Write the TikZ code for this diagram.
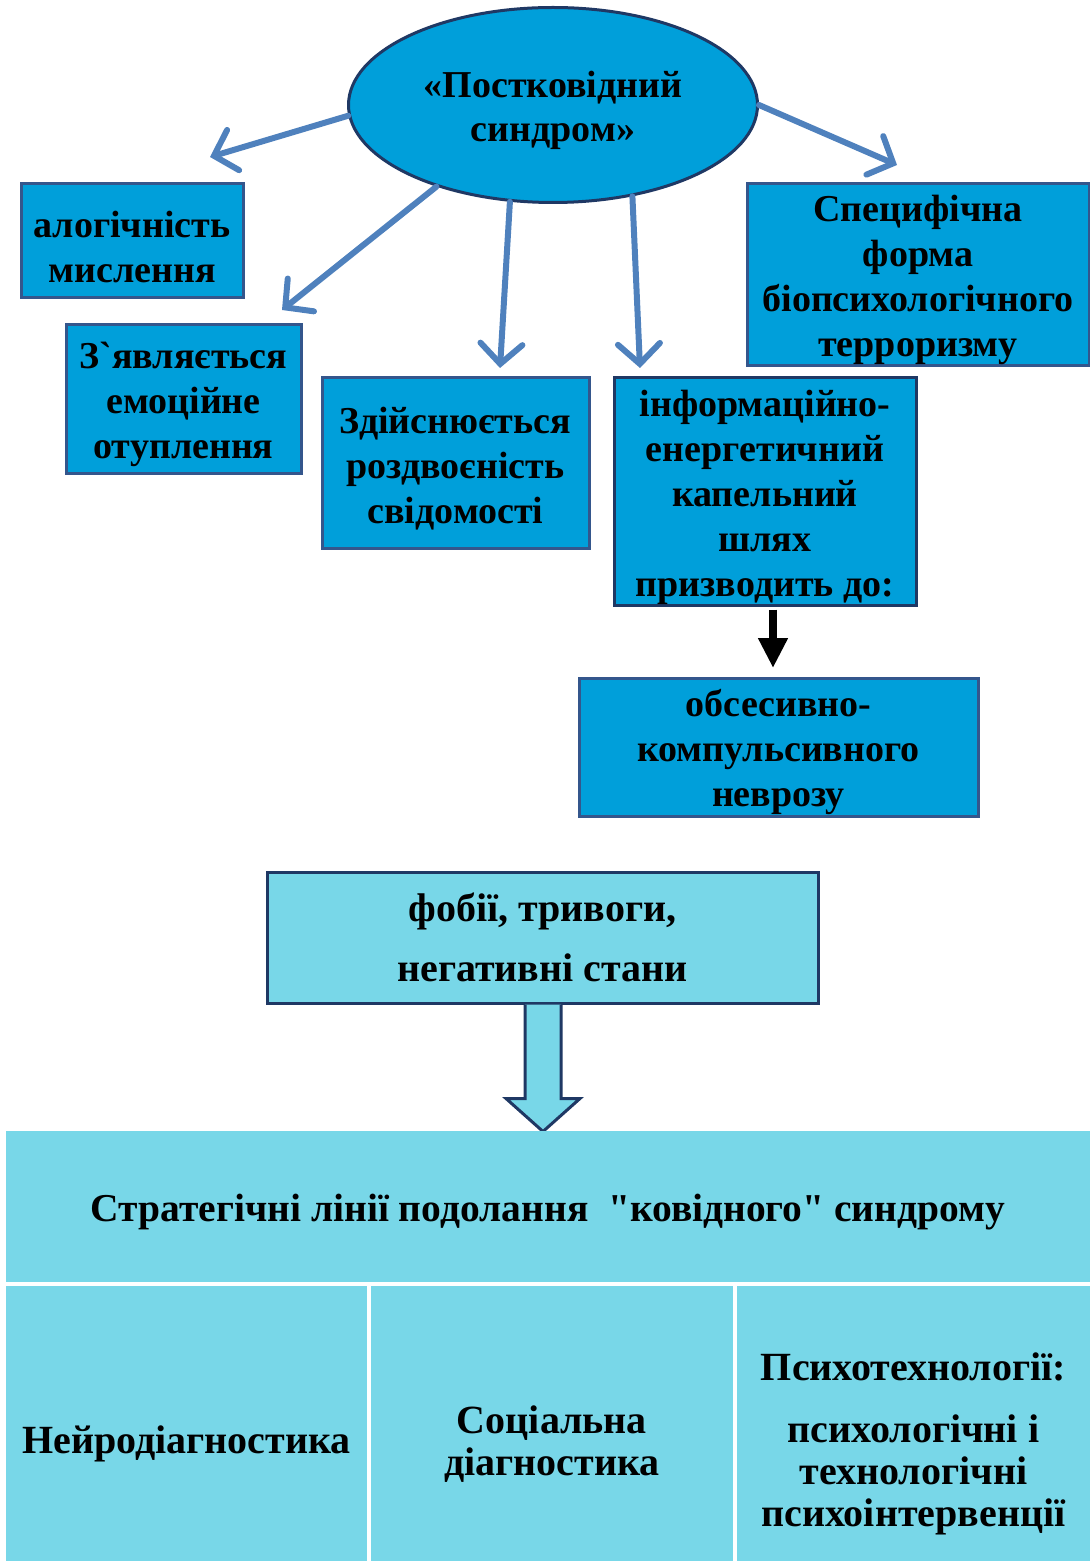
\documentclass[tikz,border=0pt]{standalone}
\usepackage{fontspec}
\setmainfont{Liberation Serif}[Ligatures=TeXOff]
\usepackage{xcolor}
\usepackage{tikz}
\usetikzlibrary{shapes.geometric,arrows.meta,calc}

\definecolor{ovalblue}{RGB}{0,159,218}
\definecolor{navyline}{RGB}{31,56,100}
\definecolor{boxline}{RGB}{52,86,140}
\definecolor{arrowblue}{RGB}{79,129,189}
\definecolor{paleblue}{RGB}{120,215,232}

\newcommand{\topgap}{\rule{0pt}{19pt}}

\tikzset{
  bluebox/.style={draw=boxline, fill=ovalblue, line width=1.5pt, inner sep=0pt,
    align=center, font=\fontsize{19}{22.5}\selectfont\bfseries},
  spoke/.style={draw=arrowblue, line width=3pt, line cap=round,
    -{Straight Barb[length=10pt,width=21pt,line cap=round]}},
  tablecell/.style={fill=paleblue, inner sep=0pt, align=center,
    font=\fontsize{20}{21}\selectfont\bfseries}
}

\begin{document}
\begin{tikzpicture}[x=0.5pt,y=-0.5pt]
\useasboundingbox (0,0) rectangle (1090,1561);
\clip (0,0) rectangle (1090,1561);

% syndrome oval
\node[ellipse, draw=navyline, fill=ovalblue, line width=1.5pt, inner sep=0pt,
  minimum width=204.5pt, minimum height=97.5pt, align=center,
  font=\fontsize{19}{22}\selectfont\bfseries] (post) at (553,105)
  {\topgap«Постковідний\\синдром»};

% symptom boxes
\node[bluebox, minimum width=111pt, minimum height=57pt] (alog) at (132,241)
  {\topgap алогічність\\мислення};
\node[bluebox, minimum width=117.5pt, minimum height=74pt] (emot) at (183.5,399)
  {\topgap З`являється\\емоційне\\отуплення};
\node[bluebox, minimum width=133.5pt, minimum height=85pt] (rozd) at (455.5,463)
  {\topgap Здійснюється\\роздвоєність\\свідомості};
\node[bluebox, draw=navyline, minimum width=151pt, minimum height=113.5pt] (info) at (765,491.5)
  {\topgap інформаційно-\\енергетичний\\капельний\\шлях\\призводить до:};
\node[bluebox, minimum width=171pt, minimum height=90.5pt] (spec) at (918,274.5)
  {\topgap Специфічна\\форма\\біопсихологічного\\терроризму};
\node[bluebox, minimum width=199.5pt, minimum height=69pt] (obse) at (778.5,747)
  {\topgap обсесивно-\\компульсивного\\неврозу};

% free ends of the spokes
\coordinate (t1) at (210,157);
\coordinate (t2) at (282,310);
\coordinate (t3) at (500,368);
\coordinate (t4) at (640,368);
\coordinate (t5) at (897,165);

\draw[spoke] (post.183) -- (t1);
\draw[spoke] (post.215) -- (t2);
\draw[spoke] (post.246) -- (t3);
\draw[spoke] (post.311) -- (t4);
\draw[spoke] (post.0) -- (t5);

\draw[line width=4pt, -{Triangle[length=15pt,width=14pt]}]
  ($(info.south)+(8,3)$) -- ($(info.south |- obse.north)+(8,-8.5)$);

% phobias box and block arrow
\node[bluebox, draw=navyline, fill=paleblue, minimum width=275.5pt, minimum height=65.5pt,
  font=\fontsize{20}{30}\selectfont\bfseries] (fobi) at (542.5,937.5)
  {фобії, тривоги,\\негативні стани};
\draw[navyline, fill=paleblue, line width=1.5pt]
  ([xshift=-8.75pt]fobi.south) -- ++(0,94) -- ++(-19,0) -- ++(37,33)
  -- ++(37,-33) -- ++(-19,0) -- ++(0,-94);

% table of strategies
\node[tablecell, minimum width=542pt, minimum height=75.5pt,
  font=\fontsize{19.75}{22}\selectfont\bfseries] (strat) at (548,1206.5)
  {\topgap Стратегічні лінії подолання\ \ "ковідного" синдрому};
\node[tablecell, minimum width=180.5pt, minimum height=158pt] (neur) at (186.5,1444)
  {Нейродіагностика};
\node[tablecell, minimum width=181pt, minimum height=158pt] (soci) at (552,1444)
  {Соціальна\\діагностика};
\node[tablecell, minimum width=176.5pt, minimum height=158pt] (psyc) at (913.5,1444)
  {Психотехнології:\\[10pt]психологічні і\\технологічні\\психоінтервенції};
\end{tikzpicture}
\end{document}
